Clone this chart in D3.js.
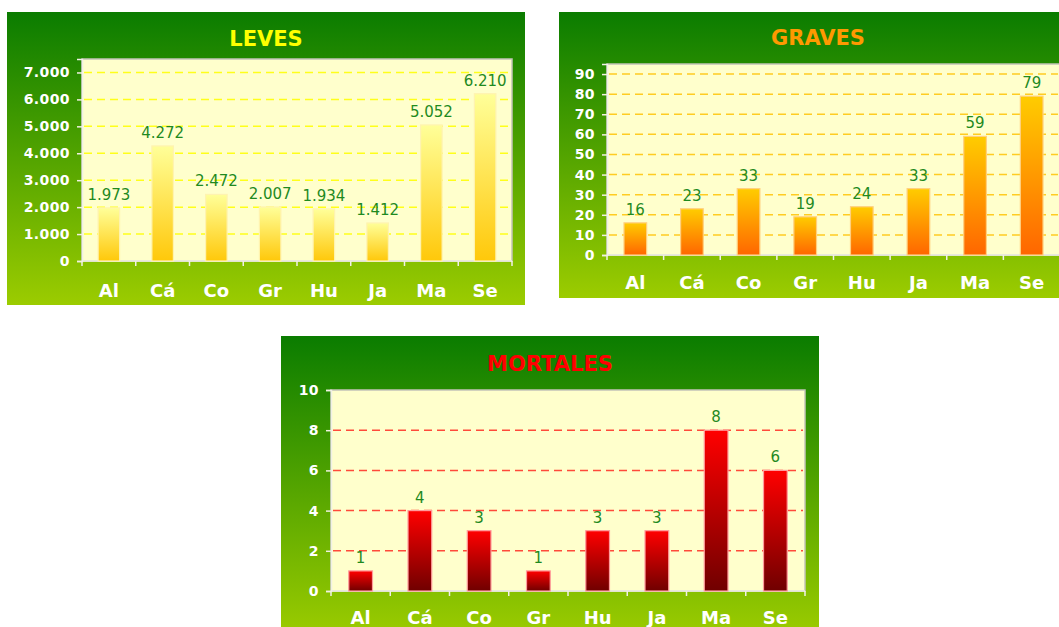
<!DOCTYPE html>
<html>
<head>
<meta charset="utf-8">
<script src="https://cdn.jsdelivr.net/npm/d3@7"></script>
<style>
    body { margin: 0; background: #fff; }
    svg { display: block; font-family: "DejaVu Sans", Verdana, sans-serif; }
</style>
</head>
<body>
<svg width="1059" height="627"></svg>
<script>
// provinces (abbreviated)
var categories = ["Al", "Cá", "Co", "Gr", "Hu", "Ja", "Ma", "Se"];

var leves = [1973, 4272, 2472, 2007, 1934, 1412, 5052, 6210];
var graves = [16, 23, 33, 19, 24, 33, 59, 79];
var mortales = [1, 4, 3, 1, 3, 3, 8, 6];

var levesTicks = [0, 1000, 2000, 3000, 4000, 5000, 6000, 7000];
var gravesTicks = [0, 10, 20, 30, 40, 50, 60, 70, 80, 90];
var mortalesTicks = [0, 2, 4, 6, 8, 10];

var es = d3.formatLocale({ decimal: ",", thousands: ".", grouping: [3], currency: ["", " €"] });
var fmt = es.format(",d");

var svg = d3.select("svg");
var defs = svg.append("defs");

function vgrad(id, top, bottom) {
    var g = defs.append("linearGradient").attr("id", id)
        .attr("x1", 0).attr("y1", 0).attr("x2", 0).attr("y2", 1);
    g.append("stop").attr("offset", "0%").attr("stop-color", top);
    g.append("stop").attr("offset", "100%").attr("stop-color", bottom);
}
vgrad("bg", "#0a7c00", "#9ccc00");
vgrad("barLeves", "#ffff99", "#ffc80a");
vgrad("barGraves", "#ffcc00", "#ff6600");
vgrad("barMortales", "#ff0000", "#700000");

function drawPanel(p) {
    var g = svg.append("g");

    g.append("rect")
        .attr("x", p.x0).attr("y", p.y0)
        .attr("width", p.w).attr("height", p.h)
        .attr("fill", "url(#bg)");

    g.append("text")
        .attr("x", p.x0 + p.w / 2).attr("y", p.titleY)
        .attr("text-anchor", "middle")
        .attr("font-size", 21).attr("font-weight", "bold")
        .attr("fill", p.titleColor)
        .text(p.title);

    var x = d3.scaleBand()
        .domain(categories)
        .range([p.left, p.right])
        .paddingInner(0.6)
        .paddingOuter(0.3);

    var y = d3.scaleLinear()
        .domain([0, p.max])
        .range([p.bottom, p.top]);

    // plot area
    g.append("rect")
        .attr("x", p.left).attr("y", p.top)
        .attr("width", p.right - p.left).attr("height", p.bottom - p.top)
        .attr("fill", "#ffffcc")
        .attr("stroke", "#c4c4b8").attr("stroke-width", 1.5);

    // gridlines
    g.selectAll(".grid")
        .data(p.ticks.filter(function(d) { return d > 0 && y(d) > p.top + 1; }))
        .enter().append("line")
        .attr("x1", p.left + 2).attr("x2", p.right - 2)
        .attr("y1", function(d) { return y(d); })
        .attr("y2", function(d) { return y(d); })
        .attr("stroke", p.gridColor)
        .attr("stroke-width", 1.5)
        .attr("stroke-dasharray", "8,5");

    // y axis
    var ya = g.append("g")
        .attr("transform", "translate(" + p.left + ",0)")
        .call(d3.axisLeft(y).tickValues(p.ticks).tickSize(5).tickPadding(7).tickFormat(fmt));
    ya.select(".domain").attr("stroke", "#f0f0e6").attr("stroke-width", 1.5);
    ya.selectAll(".tick line").attr("stroke", "#f0f0e0").attr("stroke-width", 1.5);
    ya.selectAll(".tick text")
        .attr("fill", "#ffffff")
        .attr("font-size", 14)
        .attr("font-weight", "bold")
        .attr("letter-spacing", "0.4px")
        .attr("font-family", "DejaVu Sans, Verdana, sans-serif");

    // x axis line + boundary ticks
    g.append("line")
        .attr("x1", p.left).attr("x2", p.right)
        .attr("y1", p.bottom).attr("y2", p.bottom)
        .attr("stroke", "#f0f0e6").attr("stroke-width", 1.5);
    g.selectAll(".xtick")
        .data(d3.range(categories.length + 1))
        .enter().append("line")
        .attr("x1", function(i) { return x.range()[0] + i * x.step(); })
        .attr("x2", function(i) { return x.range()[0] + i * x.step(); })
        .attr("y1", p.bottom).attr("y2", p.bottom + 5)
        .attr("stroke", "#f0f0e6").attr("stroke-width", 1.5);

    g.selectAll(".xlab")
        .data(categories)
        .enter().append("text")
        .attr("x", function(d) { return x(d) + x.bandwidth() / 2; })
        .attr("y", p.catY)
        .attr("text-anchor", "middle")
        .attr("font-size", 18).attr("font-weight", "bold")
        .attr("fill", "#ffffff")
        .text(function(d) { return d; });

    // bars
    g.selectAll(".bar")
        .data(p.values)
        .enter().append("rect")
        .attr("x", function(d, i) { return x(categories[i]); })
        .attr("y", function(d) { return y(d); })
        .attr("width", x.bandwidth())
        .attr("height", function(d) { return p.bottom - y(d); })
        .attr("fill", p.barFill)
        .attr("stroke", p.barStroke)
        .attr("stroke-width", 1.2);

    // value labels
    g.selectAll(".val")
        .data(p.values)
        .enter().append("text")
        .attr("x", function(d, i) { return x(categories[i]) + x.bandwidth() / 2; })
        .attr("y", function(d) { return y(d) - 8; })
        .attr("text-anchor", "middle")
        .attr("font-size", 15)
        .attr("fill", "#1f8a1f")
        .text(function(d) { return fmt(d); });
}

drawPanel({
    title: "LEVES", titleColor: "#ffff00",
    values: leves, ticks: levesTicks, max: 7500,
    x0: 7, y0: 12, w: 518, h: 293, titleY: 46,
    left: 82, right: 512, top: 59, bottom: 261, catY: 297,
    gridColor: "#ffff1a", barFill: "url(#barLeves)", barStroke: "#fff3b0"
});

drawPanel({
    title: "GRAVES", titleColor: "#ff9900",
    values: graves, ticks: gravesTicks, max: 95,
    x0: 559, y0: 12, w: 518, h: 286, titleY: 45,
    left: 607, right: 1060, top: 64, bottom: 255, catY: 289,
    gridColor: "#ffcc22", barFill: "url(#barGraves)", barStroke: "#ffd080"
});

drawPanel({
    title: "MORTALES", titleColor: "#ff0000",
    values: mortales, ticks: mortalesTicks, max: 10,
    x0: 281, y0: 336, w: 538, h: 300, titleY: 371,
    left: 331, right: 805, top: 390, bottom: 591, catY: 624,
    gridColor: "#ff4a3a", barFill: "url(#barMortales)", barStroke: "#ff9c9c"
});
</script>
</body>
</html>
